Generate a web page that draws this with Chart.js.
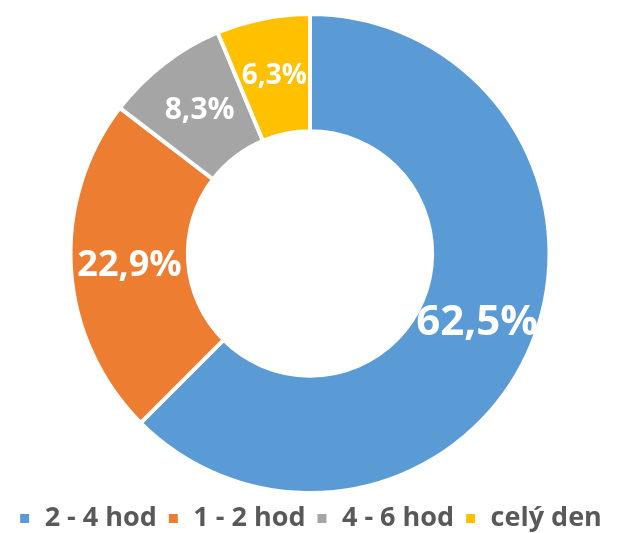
<!DOCTYPE html>
<html>
<head>
<meta charset="utf-8">
<script src="https://cdn.jsdelivr.net/npm/chart.js@4"></script>
<style>
  html, body { margin: 0; padding: 0; background: #fff; }
  #wrap { width: 640px; height: 533px; }
</style>
</head>
<body>
<div id="wrap"><canvas id="donutChart"></canvas></div>
<script>
const labels = ["2 - 4 hod", "1 - 2 hod", "4 - 6 hod", "celý den"];
const values = [62.5, 22.9, 8.3, 6.3];
const colors = ["#5B9BD5", "#ED7D31", "#A5A5A5", "#FFC000"];
const labelSizes = [42, 36, 30, 28];

// procenta dovnitř výsečí
const sliceLabels = {
  id: "sliceLabels",
  afterDatasetsDraw(chart) {
    const ctx = chart.ctx;
    const meta = chart.getDatasetMeta(0);
    ctx.save();
    ctx.fillStyle = "#fff";
    ctx.textAlign = "center";
    ctx.textBaseline = "middle";
    meta.data.forEach((arc, i) => {
      const p = arc.tooltipPosition();
      ctx.font = "bold " + labelSizes[i] + "px 'Open Sans'";
      ctx.fillText(values[i].toFixed(1).replace(".", ",") + "%", p.x, p.y);
    });
    ctx.restore();
  },
};

const donutChart = document.querySelector("#donutChart");
const myChart = new Chart(donutChart, {
  type: "doughnut",
  data: {
    labels: labels,
    datasets: [
      {
        data: values,
        backgroundColor: colors,
        borderColor: "#fff",
        borderWidth: 4,
      },
    ],
  },
  options: {
    responsive: true,
    maintainAspectRatio: false,
    animation: false,
    cutout: "51%",
    layout: {
      padding: { top: 12, right: 20, bottom: 0, left: 0 },
    },
    plugins: {
      tooltip: { enabled: false },
      legend: {
        position: "bottom",
        maxHeight: 38,
        labels: {
          color: "#595959",
          font: { family: "'Open Sans'", size: 27, weight: "bold" },
          boxWidth: 13,
          boxHeight: 13,
          padding: 10,
        },
      },
    },
  },
  plugins: [sliceLabels],
});
</script>
</body>
</html>
